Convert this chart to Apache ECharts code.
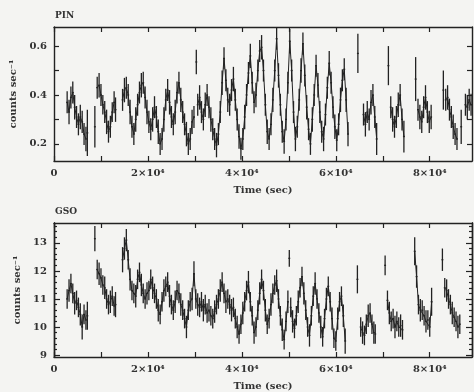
<!DOCTYPE html>
<html><head><meta charset="utf-8">
<script src="https://cdn.jsdelivr.net/npm/echarts@6/dist/echarts.min.js"></script>
<style>html,body{margin:0;padding:0;background:#f4f4f2}#c{width:474px;height:392px}</style>
</head><body><div id="c"></div>
<script>
// ---------- data ----------
const xTickValues = [0,10000,20000,30000,40000,50000,60000,70000,80000];
const xLabelValues = [0,20000,40000,60000,80000];
const pinTickValues = [0.2,0.3,0.4,0.5,0.6];
const pinLabelValues = [0.2,0.4,0.6];
const gsoLabelValues = [9,10,11,12,13];
const gsoMinorValues = [9.2,9.4,9.6,9.8,10.2,10.4,10.6,10.8,11.2,11.4,11.6,11.8,12.2,12.4,12.6,12.8,13.2,13.4,13.6];

const pinTime = [
 2800,3200,3600,4000,4400,4800,5200,5600,6000,6400,6800,7100,
 8700,
 9200,9600,10000,10400,10800,11200,11600,12000,12400,12800,13100,
 14600,15000,15400,15800,16200,16600,17000,17400,17800,18200,
 18600,19000,19400,19800,20200,20600,21000,21400,21800,22200,
 22600,23000,23400,23800,24200,24600,25000,25400,25800,26200,
 26600,27000,27400,27800,28200,28600,29000,29400,29800,
 30300,
 30600,31000,31400,31800,32200,32600,33000,33400,33800,34200,
 34600,35000,35400,35800,36200,36600,37000,37400,37800,38200,
 38600,39000,39400,39800,40200,40600,41000,41400,41800,42200,
 42600,43000,43400,43800,44200,44600,45000,45400,45800,46200,
 46600,47000,47400,47800,48200,48600,49000,49400,49800,50200,
 50600,51000,51400,51800,52200,52600,53000,53400,53800,54200,
 54600,55000,55400,55800,56200,56600,57000,57400,57800,58200,
 58600,59000,59400,59800,60200,60600,61000,61400,61800,62200,
 62600,
 64700,
 65900,66300,66700,67100,67500,67900,68300,68700,
 71200,
 71700,72100,72500,72900,73300,73700,74100,74500,
 77000,
 77500,77900,78300,78700,79100,79500,79900,80300,
 82900,
 83400,83800,84200,84600,85000,85400,85800,
 86700,
 87600,88000,88400,88800
];
const pinRate = [
 .37,.33,.39,.41,.35,.31,.28,.31,.29,.24,.22,.245,
 .27,
 .43,.44,.40,.36,.33,.29,.25,.27,.33,.37,.34,
 .38,.42,.43,.40,.33,.27,.24,.30,.36,.41,
 .44,.45,.39,.33,.29,.26,.30,.35,.31,.25,
 .20,.22,.30,.38,.42,.37,.31,.28,.33,.41,
 .45,.38,.33,.28,.24,.20,.22,.29,.31,
 .535,
 .36,.39,.33,.30,.36,.40,.35,.30,.26,.22,
 .195,.24,.33,.45,.55,.46,.38,.36,.42,.465,
 .38,.30,.23,.18,.22,.31,.40,.49,.56,.45,
 .37,.40,.50,.58,.595,.50,.36,.25,.22,.28,
 .38,.50,.63,.48,.36,.25,.21,.30,.45,.62,
 .50,.33,.22,.27,.38,.50,.61,.48,.35,.26,
 .20,.30,.40,.52,.44,.33,.25,.22,.32,.43,
 .53,.45,.35,.27,.215,.28,.38,.46,.505,.38,
 .24,
 .57,
 .32,.28,.33,.30,.37,.40,.31,.22,
 .52,
 .35,.30,.27,.31,.36,.40,.30,.23,
 .465,
 .34,.31,.29,.35,.39,.33,.29,.31,
 .42,
 .38,.39,.34,.31,.27,.24,.22,
 .27,
 .36,.35,.38,.36
];
const pinErr = [
 .045,.05,.045,.045,.05,.045,.045,.05,.045,.045,.05,.095,
 .085,
 .045,.05,.045,.04,.045,.05,.045,.045,.04,.045,.05,
 .045,.05,.045,.045,.05,.045,.045,.05,.045,.045,
 .05,.045,.045,.05,.045,.045,.05,.045,.045,.05,
 .045,.045,.05,.045,.045,.05,.045,.045,.05,.045,
 .045,.05,.045,.045,.05,.045,.045,.05,.045,
 .05,
 .045,.05,.045,.045,.05,.045,.045,.05,.045,.045,
 .05,.045,.045,.05,.045,.045,.05,.045,.045,.05,
 .045,.045,.05,.045,.045,.05,.045,.045,.05,.045,
 .045,.05,.045,.045,.05,.045,.045,.05,.045,.045,
 .05,.045,.045,.05,.045,.045,.05,.045,.045,.05,
 .045,.045,.05,.045,.045,.05,.045,.045,.05,.045,
 .045,.05,.045,.045,.05,.045,.045,.05,.045,.045,
 .05,.045,.045,.05,.045,.045,.05,.045,.045,.05,
 .05,
 .08,
 .045,.05,.045,.045,.05,.045,.045,.065,
 .08,
 .045,.05,.045,.045,.05,.045,.045,.065,
 .09,
 .045,.05,.045,.045,.05,.045,.045,.05,
 .08,
 .045,.05,.045,.045,.05,.045,.045,
 .07,
 .045,.05,.045,.045
];

const gsoTime = [
 2800,3200,3600,4000,4400,4800,5200,5600,6000,6400,6800,7100,
 8700,
 9200,9600,10000,10400,10800,11200,11600,12000,12400,12800,13100,
 14600,15000,15400,15800,16200,16600,17000,17400,17800,18200,
 18600,19000,19400,19800,20200,20600,21000,21400,21800,22200,
 22600,23000,23400,23800,24200,24600,25000,25400,25800,26200,
 26600,27000,27400,27800,28200,28600,29000,29400,29800,
 30200,30600,31000,31400,31800,32200,32600,33000,33400,33800,
 34200,34600,35000,35400,35800,36200,36600,37000,37400,37800,
 38200,38600,39000,39400,39800,40200,40600,41000,41400,41800,
 42200,42600,43000,43400,43800,44200,44600,45000,45400,45800,
 46200,46600,47000,47400,47800,48200,48600,49000,49400,49800,
 50100,
 50400,50800,51200,51600,52000,52400,52800,53200,53600,54000,
 54400,54800,55200,55600,56000,56400,56800,57200,57600,58000,
 58400,58800,59200,59600,60000,60400,60800,61200,61600,62000,
 64600,
 65300,65700,66100,66500,66900,67300,67700,68100,68400,
 70500,
 71000,71400,71800,72200,72600,73000,73400,73800,74200,
 76800,77200,
 77600,78000,78400,78800,79200,79600,80000,80400,
 82700,
 83200,83600,84000,84400,84800,85200,85600,86000,86400
];
const gsoRate = [
 11.0,11.3,11.55,11.2,10.85,10.95,10.7,10.45,10.0,10.45,10.25,10.4,
 13.15,
 12.05,11.9,11.75,11.5,11.4,11.0,10.8,10.9,11.1,10.75,10.8,
 12.4,12.8,13.1,12.4,11.7,11.3,11.2,11.1,11.7,11.95,
 11.5,11.2,11.0,11.2,11.3,11.7,11.4,11.2,11.0,10.6,
 10.45,10.9,11.3,11.45,11.6,11.1,10.8,10.6,10.9,11.3,
 11.2,10.8,10.6,10.3,10.0,10.6,10.9,11.0,11.9,
 11.0,10.8,10.7,10.9,10.6,10.8,10.5,10.6,10.4,10.3,
 10.55,10.8,11.0,11.3,11.6,11.2,10.9,11.0,10.8,10.6,
 10.7,10.3,10.0,9.75,10.1,10.5,10.9,11.3,11.6,10.9,
 10.4,9.8,10.0,10.6,11.2,11.7,11.3,10.6,10.1,10.3,
 10.8,11.2,11.5,11.65,11.0,10.4,9.9,9.55,10.2,10.9,
 12.45,
 10.7,10.2,9.95,10.4,10.9,11.4,11.8,11.2,10.6,10.0,
 9.7,10.4,11.1,11.55,11.0,10.5,10.0,9.65,10.3,11.0,
 11.45,10.9,10.3,9.6,9.5,10.3,10.9,11.1,10.4,9.5,
 11.7,
 10.0,9.8,9.7,10.1,10.4,10.5,10.1,9.8,9.75,
 12.2,
 10.95,10.5,10.2,10.3,10.0,10.2,10.0,10.05,9.9,
 12.7,11.8,
 10.8,10.6,10.6,10.4,10.2,10.25,10.0,10.9,
 12.4,
 11.4,11.3,11.0,10.8,10.5,10.35,10.2,10.0,10.1
];
const gsoErr = [
 .35,.4,.35,.35,.4,.35,.35,.4,.45,.35,.35,.5,
 .45,
 .35,.4,.35,.35,.4,.35,.35,.4,.35,.35,.45,
 .45,.4,.4,.35,.4,.35,.35,.4,.35,.35,
 .4,.35,.35,.4,.35,.35,.4,.35,.35,.4,
 .35,.35,.4,.35,.35,.4,.35,.35,.4,.35,
 .35,.4,.35,.35,.4,.35,.35,.4,.45,
 .35,.4,.35,.35,.4,.35,.35,.4,.35,.35,
 .4,.35,.35,.4,.35,.35,.4,.35,.35,.4,
 .35,.35,.4,.35,.35,.4,.35,.35,.4,.35,
 .35,.4,.35,.35,.4,.35,.35,.4,.35,.35,
 .4,.35,.35,.4,.35,.35,.4,.35,.35,.4,
 .3,
 .35,.4,.35,.35,.4,.35,.35,.4,.35,.35,
 .4,.35,.35,.4,.35,.35,.4,.35,.35,.4,
 .35,.35,.4,.35,.35,.4,.35,.35,.4,.45,
 .5,
 .35,.4,.35,.35,.4,.35,.35,.4,.35,
 .35,
 .35,.4,.35,.35,.4,.35,.35,.4,.35,
 .5,.4,
 .35,.4,.35,.35,.4,.35,.35,.5,
 .4,
 .35,.4,.35,.35,.4,.35,.35,.4,.35
];

// ---------- styling ----------
const ink = '#222';
const font = 'DejaVu Serif';
const txt = {fontFamily: font, fontWeight: 'bold', fontSize: 10, color: '#333'};

const pinData = pinTime.map((t, i) => [t, pinRate[i], pinErr[i]]);
const gsoData = gsoTime.map((t, i) => [t, gsoRate[i], gsoErr[i]]);

// connecting trace: break where the regular 400 s cadence is interrupted
function trace(times, rates) {
  const out = [];
  times.forEach((t, i) => {
    if (i > 0) {
      const d = t - times[i - 1];
      if (d > 450 || d < 350) out.push([t - 1, '-']);
    }
    out.push([t, rates[i]]);
  });
  return out;
}

function renderBar(params, api) {
  const t = api.value(0), v = api.value(1), e = api.value(2);
  const a = api.coord([t, v + e]);
  const b = api.coord([t, v - e]);
  const l = api.coord([t - 200, v]);
  const r = api.coord([t + 200, v]);
  const st = {stroke: ink, lineWidth: 1.3};
  return {type: 'group', children: [
    {type: 'line', shape: {x1: a[0], y1: a[1], x2: b[0], y2: b[1]}, style: st},
    {type: 'line', shape: {x1: l[0], y1: l[1], x2: r[0], y2: r[1]}, style: st}
  ]};
}

function xAx(grid, pos, showLab) {
  return {
    type: 'value', gridIndex: grid, position: pos, min: 0, max: 89000,
    axisLine: {show: true, onZero: false, lineStyle: {color: ink, width: 1.4}},
    axisTick: {show: true, inside: true, length: 5, customValues: xTickValues, lineStyle: {color: ink, width: 1.2}},
    axisLabel: {show: showLab, customValues: xLabelValues, margin: 7,
      formatter: v => v === 0 ? '0' : (v / 10000) + '×10⁴', ...txt},
    splitLine: {show: false},
    name: showLab ? 'Time (sec)' : '', nameLocation: 'middle', nameGap: 24, nameTextStyle: txt
  };
}
function yAx(grid, pos, min, max, ticks, labels, len, showLab, fmt, name) {
  return {
    type: 'value', gridIndex: grid, position: pos, min: min, max: max,
    axisLine: {show: true, onZero: false, lineStyle: {color: ink, width: 1.4}},
    axisTick: {show: true, inside: true, length: len, customValues: ticks, lineStyle: {color: ink, width: 1.2}},
    axisLabel: {show: showLab, customValues: labels, margin: 7, formatter: fmt, ...txt},
    splitLine: {show: false},
    name: name || '', nameLocation: 'middle', nameGap: 22, nameRotate: 90, nameTextStyle: txt
  };
}

const chart = echarts.init(document.getElementById('c'), null, {renderer: 'canvas'});
chart.setOption({
  backgroundColor: '#f4f4f2',
  animation: false,
  title: [
    {text: 'PIN', left: 55, top: 11, padding: 0, textStyle: {...txt, fontSize: 9}},
    {text: 'GSO', left: 55, top: 207, padding: 0, textStyle: {...txt, fontSize: 9}}
  ],
  grid: [
    {left: 54, right: 2, top: 27, height: 134},
    {left: 54, right: 2, top: 223, height: 135}
  ],
  xAxis: [xAx(0, 'bottom', true), xAx(0, 'top', false), xAx(1, 'bottom', true), xAx(1, 'top', false)],
  yAxis: [
    yAx(0, 'left', 0.13, 0.678, pinTickValues, pinLabelValues, 5, true, v => v.toFixed(1), 'counts sec⁻¹'),
    yAx(0, 'right', 0.13, 0.678, pinTickValues, pinLabelValues, 5, false),
    yAx(1, 'left', 8.93, 13.71, gsoLabelValues, gsoLabelValues, 6, true, v => String(v), 'counts sec⁻¹'),
    yAx(1, 'left', 8.93, 13.71, gsoMinorValues, gsoLabelValues, 3, false),
    yAx(1, 'right', 8.93, 13.71, gsoLabelValues, gsoLabelValues, 6, false),
    yAx(1, 'right', 8.93, 13.71, gsoMinorValues, gsoLabelValues, 3, false)
  ],
  series: [
    {type: 'custom', xAxisIndex: 0, yAxisIndex: 0, data: pinData, renderItem: renderBar, clip: true, silent: true},
    {type: 'line', xAxisIndex: 0, yAxisIndex: 0, data: trace(pinTime, pinRate), showSymbol: false, connectNulls: false,
      lineStyle: {color: ink, width: 1}, clip: true, silent: true},
    {type: 'custom', xAxisIndex: 2, yAxisIndex: 2, data: gsoData, renderItem: renderBar, clip: true, silent: true},
    {type: 'line', xAxisIndex: 2, yAxisIndex: 2, data: trace(gsoTime, gsoRate), showSymbol: false, connectNulls: false,
      lineStyle: {color: ink, width: 1}, clip: true, silent: true}
  ]
});
</script></body></html>
